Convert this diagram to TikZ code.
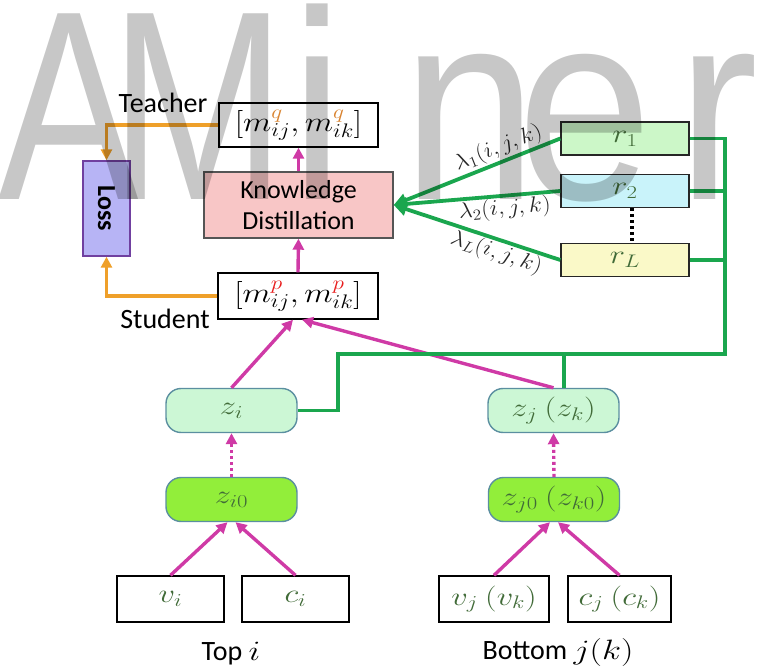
\RequirePackage{fix-cm}
\documentclass[tikz,border=0pt]{standalone}
\usepackage{fontspec}
\setmainfont{Carlito}
\newfontfamily\wmfont{Liberation Sans}
\usetikzlibrary{arrows.meta}

\definecolor{magc}{HTML}{CF3AA6}
\definecolor{grnc}{HTML}{1AA64E}
\definecolor{orgc}{HTML}{EFA02A}
\definecolor{mathg}{HTML}{416B38}
\definecolor{qc}{HTML}{D9832F}
\definecolor{pc}{HTML}{E81C1C}
\definecolor{lossf}{HTML}{B7B4F5}
\definecolor{lossd}{HTML}{7040A0}
\definecolor{kdf}{HTML}{F8C6C6}
\definecolor{kdd}{HTML}{555555}
\definecolor{zf}{HTML}{CCF7D5}
\definecolor{z0f}{HTML}{92EE3A}
\definecolor{zd}{HTML}{5B8FA0}
\definecolor{r1f}{HTML}{CCF7C8}
\definecolor{r2f}{HTML}{C9F3FA}
\definecolor{rLf}{HTML}{FAF9C8}

\newcommand{\mx}[1]{\scalebox{1.25}[1]{$#1$}}
\newcommand{\mxs}[1]{\scalebox{1.18}[1]{$#1$}}
\newcommand{\wmU}[1]{{\wmfont\fontsize{270}{270}\selectfont\scalebox{0.78}[1]{#1}}}
\newcommand{\wmL}[1]{{\wmfont\fontsize{270}{270}\selectfont\scalebox{0.9}[1]{#1}}}

\tikzset{
  mline/.style={draw=magc, line width=3.4pt, -{Triangle[length=11pt,width=11pt]}},
  oline/.style={draw=orgc, line width=3.4pt, -{Triangle[length=11pt,width=11pt]}},
  gline/.style={draw=grnc, line width=3.8pt},
  plainbox/.style={draw=black, line width=1.4pt, fill=white, inner sep=0pt},
  rbox/.style={draw=black!85, line width=1.4pt, inner sep=0pt, minimum width=128pt, minimum height=33pt, font=\fontsize{26}{30}\selectfont, text=mathg},
  zbox/.style={draw=zd, line width=1.4pt, rounded corners=15pt, inner sep=0pt, minimum width=131pt, minimum height=44pt, font=\fontsize{26}{30}\selectfont, text=mathg},
  vbox/.style={plainbox, minimum height=46pt, font=\fontsize{26}{30}\selectfont, text=mathg},
  sanslab/.style={font=\fontsize{28}{32}\selectfont, inner sep=0pt},
  lam/.style={font=\fontsize{22}{26}\selectfont, inner sep=1pt, text=black!85},
  wm/.style={anchor=base west, inner sep=0pt, text=black, text opacity=0.22},
}

\begin{document}
\begin{tikzpicture}[x=1pt,y=-1pt]
\useasboundingbox (0,0) rectangle (771,668);

% main boxes
\node[plainbox, minimum width=159pt, minimum height=44pt] (T) at (298.5,125)
  {\fontsize{28}{34}\selectfont\mxs{[m_{ij}^{\textcolor{qc}{q}},m_{ik}^{\textcolor{qc}{q}}]}};
\node[plainbox, minimum width=160pt, minimum height=46pt] (S) at (298,296)
  {\fontsize{28}{34}\selectfont\mxs{[m_{ij}^{\textcolor{pc}{p}},m_{ik}^{\textcolor{pc}{p}}]}};
\node[draw=kdd, fill=kdf, line width=1.4pt, minimum width=189pt, minimum height=66pt,
  align=center, inner sep=0pt, font=\fontsize{26}{31}\selectfont] (KD) at (298.5,205) {Knowledge\\Distillation};
\node[draw=lossd, fill=lossf, line width=1.4pt, minimum width=47pt, minimum height=95pt] (L) at (106.5,208.5) {};
\node[rotate=-90, font=\fontsize{26}{30}\selectfont\bfseries] (Ltxt) at (L.center) {Loss};

\node[sanslab, anchor=base] (tlab) at (163,113) {Teacher};
\node[sanslab, anchor=base] (slab) at (165,329) {Student};

% r boxes
\node[rbox, fill=r1f] (r1) at (625,138.5) {\mx{r_1}};
\node[rbox, fill=r2f] (r2) at (625,191) {\mx{r_2}};
\node[rbox, fill=rLf] (rL) at (625,260) {\mx{r_L}};

% z boxes
\node[zbox, fill=zf] (zi) at (231.5,410.5) {\mx{z_i}};
\node[zbox, fill=zf] (zj) at (553.5,410.5) {\mx{z_j\ (z_k)}};
\node[zbox, fill=z0f] (zi0) at (231.5,499.5) {\mx{z_{i0}}};
\node[zbox, fill=z0f] (zj0) at (554,499.5) {\mx{z_{j0}\ (z_{k0})}};

% inputs
\node[vbox, minimum width=107pt] (vi) at (170.5,599) {\mx{v_i}};
\node[vbox, minimum width=107pt] (ci) at (295.5,599) {\mx{c_i}};
\node[vbox, minimum width=110pt] (vj) at (494,599) {\mx{v_j\ (v_k)}};
\node[vbox, minimum width=103pt] (cj) at (619.5,599) {\mx{c_j\ (c_k)}};

\node[sanslab, anchor=base] (topi) at (231,660) {Top \mx{i}};
\node[sanslab, anchor=base] (botj) at (558,659) {Bottom \mx{j(k)}};

% orange connectors
\coordinate (oT) at (106.5,125);
\coordinate (oS) at (106.5,296);
\draw[oline] (T.west) -- (oT) -- (L.north);
\draw[oline] (S.west) -- (oS) -- (L.south);

% magenta connectors
\draw[mline] (KD.north) -- (T.south);
\draw[mline] (S.north) -- (KD.south);
\draw[mline] (zi.north) -- ([xshift=-5pt]S.south);
\draw[mline] (zj.north) -- ([xshift=4pt]S.south);
\draw[mline, dash pattern=on 3pt off 3pt] (zi0.north) -- (zi.south);
\draw[mline, dash pattern=on 3pt off 3pt] (zj0.north) -- (zj.south);
\draw[mline] (vi.north) -- ([xshift=-4pt]zi0.south);
\draw[mline] (ci.north) -- ([xshift=4pt]zi0.south);
\draw[mline] (vj.north) -- ([xshift=-4pt]zj0.south);
\draw[mline] (cj.north) -- ([xshift=4pt]zj0.south);

% green connectors
\coordinate (gR) at (725,354);
\coordinate (gM) at (564,354);
\coordinate (gL) at (338,354);
\draw[gline] (r1.east) -| (gR) -- (gL) |- (zi.east);
\draw[gline] (r2.east) -- (r2.east -| gR);
\draw[gline] (rL.east) -- (rL.east -| gR);
\draw[gline] (gM) -- (gM |- zj.north);

\draw[gline, -{Triangle[length=13pt,width=13pt]}] (r1.west) -- (KD.east);
\draw[gline, -{Triangle[length=13pt,width=13pt]}] (r2.west) -- (KD.east);
\draw[gline, -{Triangle[length=13pt,width=13pt]}] (rL.west) -- (KD.east);
\path (KD.east) -- (r1.west) node[pos=0.66, sloped, above=2pt, lam] (lab1) {\scalebox{1.1}[1]{$\lambda_1(i,j,k)$}};
\path (KD.east) -- (r2.west) node[pos=0.66, sloped, below=1pt, lam] (lab2) {\scalebox{1.1}[1]{$\lambda_2(i,j,k)$}};
\path (KD.east) -- (rL.west) node[pos=0.64, sloped, below=1pt, lam] (lab3) {\scalebox{1.1}[1]{$\lambda_L(i,j,k)$}};

\draw[line width=3.4pt, dash pattern=on 3pt off 3pt] ([xshift=7pt]r2.south) -- ([xshift=7pt]rL.north);

% watermark
\node[wm] (wA) at (-2,200) {\wmU{A}};
\node[wm] (wM) at (110,200) {\wmU{M}};
\node[wm] (wi) at (290,200) {\wmL{i}};
\node[wm] (wn) at (402,200) {\wmL{n}};
\node[wm] (we) at (517,200) {\wmL{e}};
\node[wm] (wr) at (677,200) {\wmL{r}};
\end{tikzpicture}
\end{document}
